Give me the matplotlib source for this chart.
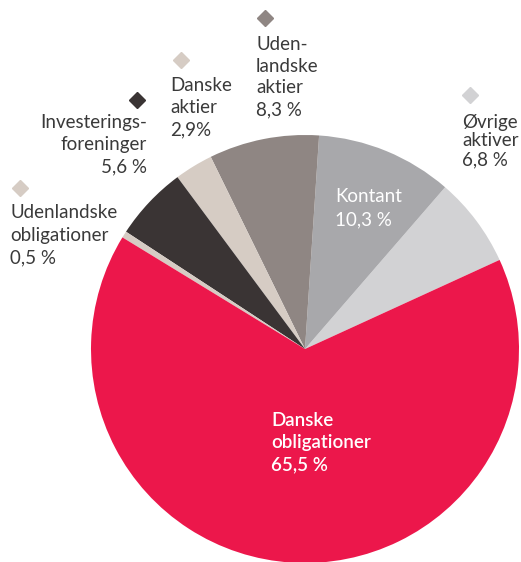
import matplotlib.pyplot as plt

# Andele i procent, mod uret fra grænsen ved ca. 24,6 grader
names = ["Øvrige\naktiver", "Kontant", "Uden-\nlandske\naktier", "Danske\naktier",
         "Investerings-\nforeninger", "Udenlandske\nobligationer", "Danske\nobligationer"]
values = ["6,8 %", "10,3 %", "8,3 %", "2,9%", "5,6 %", "0,5 %", "65,5 %"]
shares = [6.8, 10.3, 8.3, 2.9, 5.6, 0.5, 65.5]
colors = ["#D2D2D4", "#A8A8AB", "#8F8683", "#D6CCC4", "#3A3434", "#D6CCC4", "#EC174B"]

fig = plt.figure(figsize=(5.21, 5.62), dpi=100)
ax = fig.add_axes([0, 0, 1, 1])

H = 562
ax.pie(shares, colors=colors, startangle=24.6, counterclock=True,
       center=(305, H - 349), radius=214, frame=True,
       wedgeprops=dict(linewidth=0))
ax.set_xlim(0, 521)
ax.set_ylim(0, H)
ax.set_aspect('equal')
ax.axis('off')

font = "Lato"
txt = "#3A3A3A"
fs = 13.5


def block(i, x, y0, pitch, ha='left', color=txt, weight='normal'):
    lines = (names[i] + "\n" + values[i]).split("\n")
    for k, s in enumerate(lines):
        ax.text(x, H - (y0 + k * pitch), s, ha=ha, va='baseline', fontsize=fs,
                color=color, family=font, fontweight=weight)


# udvendige etiketter med markør
block(0, 462, 128, 18.5)
block(2, 256, 50, 21.7)
block(3, 170, 91, 22)
block(4, 147, 128, 22, ha='right')
block(5, 10, 218, 22.5)
for i, mx, my in [(0, 470, 95), (2, 265, 18), (3, 181, 60), (4, 137, 100), (5, 20, 188)]:
    ax.plot(mx, H - my, marker='D', markersize=8, color=colors[i], linestyle='none')

# etiketter inde i lagkagen
block(1, 335, 202, 23, color='white')
block(6, 271, 426, 22, color='white', weight='semibold')

fig.savefig("out.png", dpi=100)
